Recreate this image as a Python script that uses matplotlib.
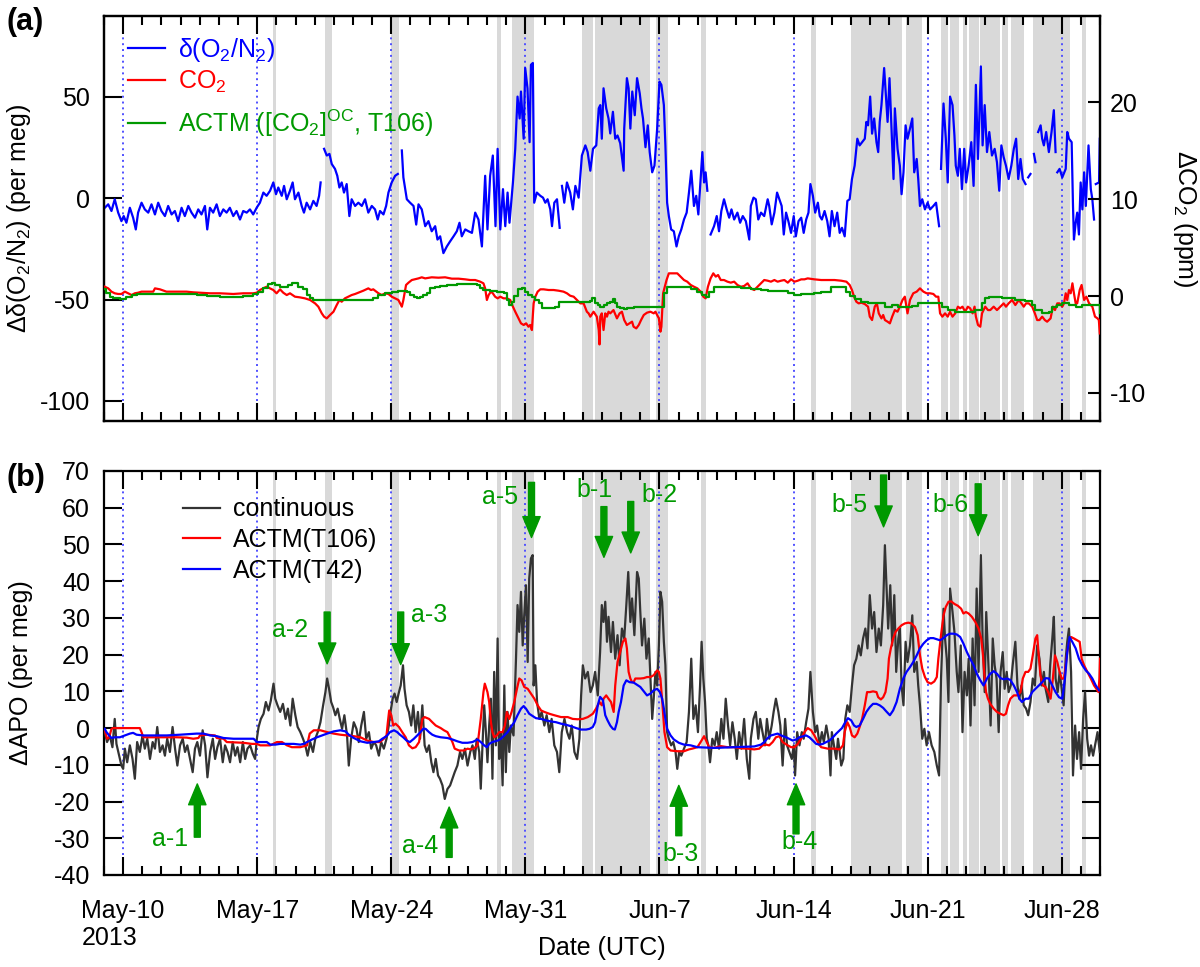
import numpy as np
import matplotlib
matplotlib.use("Agg")
import matplotlib.pyplot as plt
from matplotlib.lines import Line2D
from matplotlib.ticker import FixedLocator, MultipleLocator

plt.rcParams['font.family'] = ['Liberation Sans', 'DejaVu Sans']
plt.rcParams['font.size'] = 18
plt.rcParams['mathtext.fontset'] = 'custom'
plt.rcParams['mathtext.rm'] = 'Liberation Sans'
plt.rcParams['mathtext.it'] = 'Liberation Sans:italic'
plt.rcParams['axes.linewidth'] = 1.6
plt.rcParams['axes.unicode_minus'] = False

GREEN = '#009900'
GRAY = '#d9d9d9'

# x = days since 2013-05-10 00:00 UTC
week_days = [0, 7, 14, 21, 28, 35, 42, 49]
week_labels = ['May-10\n2013', 'May-17', 'May-24', 'May-31', 'Jun-7', 'Jun-14', 'Jun-21', 'Jun-28']

# shaded periods (start, end) in days
shaded = [(7.8, 8.0), (10.56, 10.88), (14.0, 14.42), (19.52, 19.73), (20.32, 21.44),
          (23.98, 24.54), (24.66, 27.52), (27.8, 28.44), (30.15, 30.41), (35.93, 36.15),
          (38.0, 40.66), (40.89, 41.69), (42.72, 43.05), (43.16, 43.62), (43.83, 44.06),
          (44.15, 44.66), (44.74, 45.78), (45.88, 46.22), (46.35, 47.03), (47.48, 49.45),
          (50.08, 50.26)]

# (a) delta(O2/N2), per meg; None = gap
o2_obs = [(-0.96,-4.7),(-0.78,-3.0),(-0.61,-6.3),(-0.44,-0.5),(-0.26,-7.1),(-0.09,-11.3),(0.03,-8.8),(0.17,-12.1),
    (0.35,-4.7),(0.52,-9.6),(0.66,-15.4),(0.78,-7.1),(0.96,-2.2),(1.13,-5.5),(1.31,-7.1),(1.48,-3.0),(1.66,-8.0),
    (1.83,-2.2),(2.00,-6.3),(2.18,-8.8),(2.35,-3.8),(2.53,-8.0),(2.70,-6.3),(2.87,-11.3),(3.05,-4.7),(3.22,-8.8),
    (3.40,-3.8),(3.57,-7.1),(3.75,-9.6),(3.92,-5.5),(4.09,-8.0),(4.27,-3.8),(4.39,-15.4),(4.53,-4.7),(4.70,-7.1),
    (4.88,-3.0),(5.05,-8.8),(5.23,-5.5),(5.40,-7.1),(5.57,-4.7),(5.75,-8.8),(5.92,-6.3),(6.10,-10.5),(6.27,-6.3),
    (6.45,-7.1),(6.62,-5.5),(6.79,-8.0),(6.97,-4.7),(7.14,-2.2),(7.32,2.8),(7.49,1.2),(7.67,3.7),(7.84,7.8),
    (7.98,2.0),(8.10,5.3),(8.28,1.2),(8.40,6.1),(8.54,-0.5),(8.71,3.7),(8.85,7.8),(8.97,-0.5),(9.15,2.8),
    (9.32,-3.8),(9.44,-7.1),(9.58,-2.2),(9.76,-5.5),(9.93,-1.3),(10.10,-3.8),(10.23,1.2),(10.31,7.8),(10.40,None),
    (10.49,24.4),(10.63,21.1),(10.77,21.9),(10.89,16.9),(11.06,14.5),(11.18,11.1),(11.29,5.3),(11.41,7.8),
    (11.53,2.8),(11.67,7.0),(11.81,-8.8),(11.93,-0.5),(12.11,-3.8),(12.28,-2.2),(12.46,-3.8),(12.63,-0.5),
    (12.80,-7.1),(12.98,-3.8),(13.15,-5.5),(13.29,-10.5),(13.41,-6.3),(13.59,-8.0),(13.73,-3.8),(13.85,2.8),
    (14.02,7.8),(14.20,11.1),(14.34,12.0),(14.45,None),
    (14.55,23.6),(14.63,10.3),(14.81,-0.5),(14.98,-2.2),(15.16,-3.8),(15.30,-13.0),(15.42,-3.0),(15.59,-5.5),
    (15.77,-13.8),(15.94,-11.3),(16.11,-16.3),(16.29,-13.8),(16.41,-20.4),(16.55,-18.8),(16.72,-27.1),(16.90,-23.8),
    (17.07,-21.3),(17.25,-18.8),(17.42,-16.3),(17.56,-12.1),(17.68,-18.8),(17.86,-15.4),(18.03,-16.3),(18.21,-17.1),
    (18.38,-7.1),(18.55,-10.5),(18.73,-23.8),(18.90,11.1),(19.02,-15.4),(19.16,11.1),(19.30,21.1),(19.44,-13.8),
    (19.55,24.4),(19.69,-15.4),(19.83,4.5),(19.95,-13.8),(20.07,2.8),(20.17,-12.1),(20.35,7.8),(20.47,24.4),
    (20.59,50.2),(20.70,39.4),(20.77,52.7),(20.91,29.4),(20.99,64.3),(21.11,54.3),(21.22,27.7),(21.29,65.9),
    (21.39,66.8),(21.46,-2.2),(21.60,2.8),(21.78,1.2),(21.92,0.3),(22.04,-2.2),(22.16,-0.5),(22.30,-5.5),
    (22.39,-13.8),(22.51,-2.2),(22.65,-0.5),(22.79,-14.6),(22.85,None),
    (22.91,6.1),(23.03,-2.2),(23.17,7.8),(23.34,2.8),(23.48,-5.5),(23.61,6.1),(23.78,0.3),(23.95,21.1),
    (24.13,26.1),(24.25,22.8),(24.39,13.6),(24.53,24.4),(24.70,26.1),(24.83,44.4),(24.91,46.0),(24.99,29.4),
    (25.08,54.3),(25.22,44.4),(25.34,39.4),(25.43,32.0),(25.57,42.7),(25.69,29.4),(25.81,31.0),(25.95,27.2),
    (26.13,13.6),(26.16,34.4),(26.30,59.3),(26.39,54.3),(26.48,34.4),(26.58,52.7),(26.71,41.0),(26.83,59.3),
    (26.97,51.8),(27.06,44.4),(27.14,39.4),(27.27,25.2),(27.39,36.0),(27.49,22.8),(27.62,12.8),(27.74,16.1),
    (27.88,34.4),(28.00,57.6),(28.10,56.0),(28.23,46.0),(28.31,26.1),(28.40,-2.2),(28.49,-8.8),(28.61,-15.4),
    (28.75,-16.3),(28.89,-23.8),(29.01,-18.8),(29.14,-15.4),(29.28,-10.5),(29.42,-7.1),(29.54,2.8),(29.66,13.6),
    (29.80,-3.8),(29.92,1.2),(30.03,-8.0),(30.15,9.5),(30.24,22.8),(30.33,7.8),(30.41,12.8),(30.50,3.7),(30.58,None),
    (30.67,-17.9),(30.85,-13.8),(30.99,-8.8),(31.11,-16.3),(31.23,-6.3),(31.37,-0.5),(31.51,-5.5),(31.64,-9.6),
    (31.76,-5.5),(31.90,-10.5),(32.07,-7.1),(32.21,-12.1),(32.35,-8.8),(32.51,-11.3),(32.69,-20.4),(32.77,-3.8),
    (32.91,0.3),(33.03,-0.5),(33.16,-10.5),(33.30,-7.1),(33.47,-8.8),(33.65,-0.5),(33.73,-3.8),(33.86,-12.9),
    (34.00,-7.1),(34.14,2.8),(34.26,-0.5),(34.38,-3.8),(34.49,-17.9),(34.61,-7.1),(34.73,-11.3),(34.87,-17.1),
    (35.01,-8.8),(35.12,-18.8),(35.26,-11.3),(35.40,-9.6),(35.53,-17.1),(35.66,-10.5),(35.78,-7.1),(35.88,7.0),
    (36.01,1.2),(36.13,-7.1),(36.27,-2.2),(36.37,-8.8),(36.48,-10.5),(36.62,-6.3),(36.76,-11.3),(36.88,-18.8),
    (37.00,-6.3),(37.14,-13.8),(37.28,-7.1),(37.41,-17.1),(37.53,-14.6),(37.67,-18.8),(37.81,-1.3),(37.93,-0.5),
    (38.05,9.5),(38.19,16.1),(38.33,29.4),(38.45,26.1),(38.58,27.7),(38.72,29.4),(38.80,37.7),(38.89,36.0),
    (39.00,50.2),(39.10,31.9),(39.21,39.4),(39.33,27.7),(39.42,22.8),(39.50,37.7),(39.59,46.0),(39.73,64.3),
    (39.82,51.0),(39.91,37.7),(40.01,59.3),(40.12,32.7),(40.22,9.5),(40.29,44.4),(40.43,24.4),(40.55,16.1),
    (40.64,2.0),(40.74,12.8),(40.85,36.0),(40.95,29.4),(41.08,34.4),(41.20,39.4),(41.30,12.8),(41.43,19.4),
    (41.51,9.5),(41.60,-3.8),(41.72,-0.5),(41.86,-5.5),(42.00,-2.2),(42.13,-5.5),(42.30,-3.8),(42.44,-2.2),
    (42.60,-13.8),(42.65,None),
    (42.70,14.5),(42.83,46.8),(42.95,29.4),(43.05,7.8),(43.17,50.2),(43.30,46.0),(43.40,31.0),(43.47,16.1),
    (43.58,11.1),(43.68,24.4),(43.79,4.5),(43.91,24.4),(44.01,7.8),(44.14,16.1),(44.28,27.7),(44.40,6.1),
    (44.52,56.0),(44.63,19.4),(44.70,39.4),(44.78,65.1),(44.87,26.1),(44.98,46.0),(45.10,22.8),(45.22,32.7),
    (45.36,21.1),(45.50,24.4),(45.62,17.8),(45.74,3.7),(45.85,26.1),(45.97,20.3),(46.09,16.1),(46.23,9.5),
    (46.37,16.1),(46.50,24.4),(46.62,29.4),(46.73,9.5),(46.85,19.4),(46.97,9.5),(47.11,7.0),(47.18,None),
    (47.25,10.3),(47.37,12.0),(47.46,None),(47.55,21.9),(47.63,17.8),(47.70,None),
    (47.77,32.7),(47.90,36.0),(47.98,29.4),(48.07,26.1),(48.19,32.7),(48.33,22.8),(48.47,32.7),(48.59,43.5),
    (48.68,22.8),(48.72,None),
    (48.77,12.8),(48.89,14.5),(49.03,10.3),(49.21,14.5),(49.29,32.7),(49.38,29.4),(49.52,27.7),(49.59,-3.8),
    (49.64,-20.4),(49.73,-12.1),(49.81,-7.1),(49.90,-17.9),(49.99,7.8),(50.08,-5.5),(50.17,12.8),(50.26,-3.8),
    (50.40,26.1),(50.52,4.5),(50.60,-0.5),(50.69,-10.5),(50.74,None),(50.78,7.0),(50.95,7.8),(50.99,29.4)]

# (a) CO2, ppm (right axis)
co2_obs = [(-0.96,0.96),(-0.78,0.79),(-0.61,0.45),(-0.44,0.28),(-0.26,0.21),(-0.09,0.21),(0.09,0.45),(0.26,0.28),
    (0.44,0.10),(0.61,0.28),(0.78,0.34),(0.96,0.45),(1.57,0.45),(1.66,0.79),(1.92,0.69),(2.26,0.45),(2.61,0.45),
    (2.96,0.45),(3.31,0.45),(3.66,0.38),(4.01,0.34),(4.53,0.28),(5.05,0.28),(5.75,0.21),(6.27,0.28),(6.79,0.28),
    (6.97,0.34),(7.14,0.62),(7.32,0.79),(7.49,0.96),(7.67,0.79),(7.84,0.62),(8.01,0.28),(8.19,0.69),(8.36,0.34),
    (8.54,0.10),(8.71,0.28),(8.97,-0.07),(9.23,-0.14),(9.49,-0.24),(9.76,-0.41),(10.02,-0.76),(10.19,-1.10),
    (10.37,-1.79),(10.49,-2.13),(10.63,-2.31),(10.80,-1.96),(10.98,-1.62),(11.15,-0.93),(11.29,-0.41),(11.41,-0.59),
    (11.58,-0.24),(11.76,-0.07),(11.93,0.10),(12.11,0.21),(12.28,0.34),(12.54,0.55),(12.80,0.79),(12.94,0.62),
    (13.06,0.69),(13.15,0.55),(13.33,0.28),(13.50,0.10),(13.68,0.28),(13.85,0.21),(14.02,-0.07),(14.20,-0.24),
    (14.37,-0.41),(14.46,-0.76),(14.55,-1.10),(14.63,-0.41),(14.77,1.14),(14.90,1.38),(15.07,1.65),(15.42,1.82),
    (15.59,1.93),(15.77,1.82),(16.11,1.93),(16.46,1.89),(16.81,1.93),(17.16,1.79),(17.51,1.79),(17.86,1.72),
    (18.12,1.65),(18.38,1.65),(18.64,1.48),(18.81,1.31),(18.90,0.79),(18.99,-0.41),(19.08,0.10),(19.20,0.45),
    (19.30,0.28),(19.42,-0.07),(19.55,-0.24),(19.69,-0.07),(19.86,-0.24),(20.04,-0.24),(20.21,-0.41),(20.35,-1.10),
    (20.47,-1.62),(20.64,-2.31),(20.77,-2.82),(20.91,-2.99),(21.04,-2.82),(21.16,-3.17),(21.25,-2.99),(21.34,-3.51),
    (21.43,-0.76),(21.52,-0.07),(21.64,0.45),(21.78,0.69),(21.95,0.69),(22.21,0.62),(22.47,0.62),(22.73,0.55),
    (22.99,0.45),(23.17,0.28),(23.34,0.03),(23.52,-0.07),(23.69,-0.41),(23.87,-0.76),(24.04,-0.76),(24.21,-1.62),
    (24.30,-1.79),(24.39,-2.13),(24.56,-1.62),(24.73,-2.13),(24.83,-3.51),(24.87,-5.0),(24.91,-2.13),(24.99,-1.79),
    (25.08,-3.51),(25.17,-1.79),(25.26,-2.13),(25.34,-1.62),(25.43,-1.79),(25.60,-1.45),(25.78,-2.31),(25.92,-1.79),
    (26.04,-1.62),(26.16,-2.48),(26.30,-2.99),(26.44,-2.82),(26.57,-2.65),(26.65,-3.17),(26.79,-3.34),(26.92,-2.99),
    (27.04,-2.48),(27.18,-1.96),(27.35,-1.72),(27.53,-1.62),(27.70,-1.79),(27.79,-1.62),(27.88,-1.96),(27.97,-2.31),
    (28.05,-3.68),(28.10,-3.17),(28.19,0.28),(28.28,0.96),(28.37,1.65),(28.49,2.34),(28.66,2.34),(28.93,2.34),
    (29.10,2.00),(29.28,1.65),(29.45,1.48),(29.63,1.14),(29.80,0.96),(29.98,0.79),(30.15,0.45),(30.29,-0.07),
    (30.41,-0.24),(30.53,0.96),(30.67,1.82),(30.81,2.34),(30.94,2.00),(31.06,2.17),(31.20,1.65),(31.37,1.65),
    (31.55,1.48),(31.72,1.38),(31.90,1.48),(32.07,1.14),(32.25,0.96),(32.42,1.03),(32.60,1.31),(32.77,0.79),
    (32.95,0.62),(33.12,0.96),(33.30,1.31),(33.47,1.65),(33.65,1.58),(33.82,1.48),(34.00,1.65),(34.17,1.48),
    (34.35,1.58),(34.52,1.65),(34.70,1.38),(34.87,1.72),(35.05,1.48),(35.22,1.58),(35.40,1.72),(35.57,1.72),
    (35.74,1.82),(36.09,1.72),(36.44,1.65),(36.79,1.65),(37.14,1.65),(37.49,1.58),(37.76,1.48),(37.93,1.14),
    (38.05,0.62),(38.16,-0.07),(38.28,-0.59),(38.40,-0.76),(38.54,-0.69),(38.72,-0.83),(38.89,-1.10),(38.98,-2.13),
    (39.10,-2.48),(39.24,-1.10),(39.35,-0.76),(39.45,-1.79),(39.59,-2.31),(39.68,-1.96),(39.77,-2.48),(39.91,-2.65),
    (40.03,-2.82),(40.15,-2.13),(40.29,-1.45),(40.43,-1.62),(40.55,-1.10),(40.69,-0.41),(40.81,-0.07),(40.95,-1.79),
    (41.08,-0.41),(41.25,0.28),(41.43,0.45),(41.60,0.79),(41.78,0.45),(41.95,0.28),(42.13,0.28),(42.30,0.21),
    (42.44,-0.07),(42.56,-0.07),(42.65,-1.79),(42.77,-2.13),(42.91,-1.79),(43.05,-2.13),(43.17,-1.62),(43.30,-2.13),
    (43.44,-1.79),(43.58,-1.10),(43.70,-1.27),(43.82,-1.10),(43.96,-1.62),(44.10,-1.10),(44.22,-1.27),(44.35,-1.79),
    (44.45,-1.10),(44.52,-2.13),(44.63,-2.99),(44.75,-3.17),(44.84,-1.79),(44.92,-1.45),(45.01,-1.10),(45.15,-1.45),
    (45.27,-1.45),(45.45,-1.10),(45.62,-1.45),(45.80,-1.10),(45.97,-0.76),(46.09,-1.10),(46.23,-0.76),(46.41,-0.41),
    (46.58,-0.93),(46.76,-0.41),(46.90,-0.76),(47.02,-1.10),(47.14,-0.76),(47.28,-0.76),(47.46,-1.10),(47.60,-1.79),
    (47.72,-2.48),(47.84,-2.48),(47.98,-2.13),(48.12,-2.48),(48.24,-2.65),(48.42,-2.31),(48.54,-1.10),(48.65,-1.45),
    (48.77,-0.76),(48.89,-0.76),(49.03,-1.10),(49.12,-0.76),(49.21,0.28),(49.29,-0.41),(49.38,0.62),(49.47,0.28),
    (49.56,1.31),(49.64,0.28),(49.73,-0.76),(49.81,-0.76),(49.94,0.62),(50.04,1.14),(50.17,-0.41),(50.29,-0.07),
    (50.43,-0.76),(50.60,-1.10),(50.74,-2.13),(50.87,-2.31),(50.94,-2.48),(50.99,-3.86)]

# (a) ACTM [CO2]OC T106, ppm (right axis)
actm_co2 = [(-0.96,0.69),(-0.87,0.28),(-0.70,-0.07),(-0.52,-0.24),(-0.17,-0.34),(0.17,-0.07),(0.44,0.10),(0.70,0.21),
    (1.39,0.21),(2.26,0.21),(3.14,0.21),(3.83,0.10),(4.36,0.0),(5.05,-0.14),(5.75,-0.14),(6.27,0.0),(6.79,0.21),
    (7.05,0.45),(7.32,0.79),(7.58,1.20),(7.75,1.38),(7.93,1.14),(8.19,0.96),(8.45,0.96),(8.62,1.14),(8.80,1.38),
    (8.97,1.31),(9.15,0.96),(9.41,0.69),(9.58,0.10),(9.76,-0.24),(9.93,-0.41),(12.28,-0.41),(12.80,-0.41),
    (13.06,-0.24),(13.32,0.10),(13.67,0.28),(14.02,0.45),(14.37,0.55),(14.59,0.55),(14.81,0.38),(14.98,0.10),
    (15.16,-0.07),(15.33,-0.24),(15.51,-0.07),(15.68,0.10),(15.86,0.28),(16.03,0.79),(16.29,0.96),(16.55,1.03),
    (16.90,1.14),(17.42,1.20),(17.94,1.20),(18.47,1.14),(18.64,0.79),(18.81,0.62),(19.16,0.55),(19.51,0.45),
    (19.86,0.28),(20.03,-0.41),(20.17,-0.93),(20.30,-0.59),(20.42,0.0),(20.64,0.69),(20.82,0.79),(20.99,0.45),
    (21.16,0.10),(21.34,-0.14),(21.52,-0.41),(21.69,-0.76),(21.86,-1.27),(22.30,-1.27),(22.56,-1.10),(22.73,-0.59),
    (22.91,-0.59),(23.26,-0.59),(23.87,-0.59),(24.21,-0.59),(24.36,-0.52),(24.50,-0.24),(24.62,-0.76),(24.79,-0.93),
    (24.91,-1.10),(25.08,-0.93),(25.26,-0.76),(25.43,-0.59),(25.60,-0.34),(25.69,-0.76),(25.78,-1.10),(25.95,-1.27),
    (26.13,-1.38),(26.30,-1.27),(26.65,-1.10),(27.53,-1.10),(27.88,-1.17),(28.05,-1.10),(28.23,0.28),(28.40,0.96),
    (29.28,0.89),(29.63,0.69),(29.98,0.45),(30.24,0.10),(30.41,-0.07),(30.59,0.45),(30.85,0.96),(31.90,0.89),
    (32.25,0.79),(32.77,0.69),(33.30,0.62),(33.65,0.55),(34.35,0.55),(34.70,0.28),(35.05,0.10),(35.40,0.21),
    (35.74,0.21),(36.09,0.28),(36.44,0.45),(36.97,0.89),(37.49,0.89),(37.76,0.45),(37.93,0.0),(38.19,-0.34),
    (38.54,-0.59),(38.89,-0.76),(39.77,-1.10),(40.12,-0.93),(40.46,-1.10),(41.16,-1.03),(41.51,-0.76),(42.39,-0.69),
    (42.74,-1.10),(43.09,-1.45),(43.44,-1.62),(43.96,-1.62),(44.49,-1.45),(44.84,-0.76),(45.01,-0.24),(45.19,-0.14),
    (45.88,-0.24),(46.58,-0.41),(47.11,-0.48),(47.46,-0.93),(47.63,-1.45),(47.98,-1.79),(48.33,-1.62),(48.51,-1.10),
    (48.77,-0.93),(49.03,-0.76),(49.38,-0.93),(49.73,-1.10),(50.08,-0.93),(50.87,-0.93),(51.0,-1.79)]

# (b) APO, per meg
apo_obs = [(-0.96,-1.1),(-0.84,-3.8),(-0.70,-2.0),(-0.56,-5.2),(-0.44,2.5),(-0.35,-4.3),(-0.21,-7.5),(-0.09,-10.2),
    (0.00,-11.1),(0.09,-5.6),(0.21,-9.3),(0.35,-4.7),(0.49,-8.4),(0.61,-13.8),(0.73,-3.8),(0.87,-6.5),(1.01,-2.0),
    (1.13,-5.6),(1.26,-2.9),(1.40,-8.4),(1.54,-3.8),(1.66,-5.6),(1.78,0.3),(1.92,-6.5),(2.06,-4.7),(2.18,-7.5),
    (2.30,-2.9),(2.44,-6.5),(2.58,0.3),(2.71,-5.6),(2.83,-10.2),(2.97,-4.7),(3.11,-2.9),(3.23,-6.5),(3.35,-4.7),
    (3.49,-8.4),(3.63,-12.0),(3.75,-5.6),(3.87,-3.8),(4.01,-7.5),(4.15,-0.6),(4.28,-4.7),(4.40,-13.4),(4.54,-6.5),
    (4.68,-2.9),(4.80,-8.4),(4.92,-5.2),(5.06,-2.9),(5.20,-9.3),(5.32,-4.7),(5.45,-6.5),(5.58,-9.3),(5.72,-3.8),
    (5.85,-7.5),(5.97,-5.2),(6.11,-9.3),(6.25,-3.8),(6.37,-8.4),(6.49,-5.6),(6.63,-4.7),(6.77,-7.0),(6.89,-8.4),
    (6.98,-2.9),(7.07,0.3),(7.19,2.5),(7.33,3.9),(7.45,7.1),(7.59,4.8),(7.71,7.5),(7.85,12.1),(7.94,8.0),(8.06,6.2),
    (8.20,4.4),(8.34,6.6),(8.48,2.5),(8.60,5.3),(8.73,0.7),(8.85,8.0),(8.99,3.5),(9.11,0.3),(9.25,-1.1),(9.39,-2.9),
    (9.51,-4.7),(9.63,-7.5),(9.77,-3.8),(9.91,-6.5),(10.03,-2.9),(10.16,-1.1),(10.30,1.6),(10.44,6.2),(10.56,9.8),
    (10.65,13.5),(10.75,10.7),(10.86,7.1),(10.96,5.7),(11.08,3.5),(11.20,5.3),(11.31,2.5),(11.43,-0.2),(11.55,3.5),
    (11.69,-2.0),(11.78,-10.2),(11.90,-2.9),(12.04,1.6),(12.18,-0.2),(12.30,-3.8),(12.43,0.7),(12.57,4.4),(12.69,-2.9),
    (12.83,-1.1),(12.95,-5.6),(13.09,-3.8),(13.21,-4.7),(13.35,-7.5),(13.47,-3.8),(13.61,-5.6),(13.75,-2.9),(13.87,0.7),
    (13.96,4.4),(14.07,8.0),(14.17,9.4),(14.28,7.1),(14.40,9.8),(14.49,11.6),(14.61,17.1),(14.69,10.7),(14.80,6.2),
    (14.92,4.4),(15.04,0.7),(15.15,6.2),(15.27,-1.1),(15.39,4.4),(15.50,-2.9),(15.62,6.2),(15.74,-4.7),(15.85,-6.5),
    (15.97,-4.7),(16.09,-9.3),(16.20,-12.0),(16.32,-8.4),(16.44,-12.9),(16.54,-13.8),(16.67,-15.6),(16.79,-19.3),
    (16.93,-16.6),(17.07,-15.6),(17.19,-13.8),(17.31,-12.0),(17.45,-10.2),(17.59,-6.5),(17.71,-8.4),(17.84,-5.6),
    (17.98,-10.2),(18.12,-6.5),(18.24,-4.7),(18.36,-8.4),(18.46,-2.9),(18.59,-6.5),(18.67,-16.5),(18.76,-4.7),
    (18.85,6.2),(18.94,-1.1),(19.02,-9.3),(19.11,0.7),(19.20,8.0),(19.28,-13.8),(19.37,15.3),(19.46,-4.7),(19.55,24.4),
    (19.63,-8.4),(19.72,-1.1),(19.81,-15.6),(19.90,11.6),(19.98,-12.0),(20.07,4.4),(20.16,-6.5),(20.24,0.7),
    (20.38,-2.0),(20.51,18.9),(20.59,33.5),(20.68,26.2),(20.77,37.1),(20.86,22.5),(20.94,30.7),(21.03,38.9),
    (21.12,18.0),(21.20,40.7),(21.29,46.2),(21.38,47.1),(21.43,11.6),(21.52,17.1),(21.61,7.1),(21.73,2.5),(21.85,4.4),
    (21.99,0.7),(22.11,3.5),(22.25,-1.1),(22.37,2.5),(22.51,-4.7),(22.65,-6.5),(22.77,-12.0),(22.90,-1.1),(23.04,2.5),
    (23.18,-1.1),(23.30,-2.9),(23.42,0.7),(23.56,-6.5),(23.70,-8.4),(23.82,-2.9),(23.91,8.9),(24.00,17.1),(24.12,13.5),
    (24.26,15.3),(24.40,9.8),(24.52,11.6),(24.64,15.3),(24.78,8.9),(24.90,20.7),
    (24.99,33.5),(25.08,28.9),(25.17,34.4),(25.26,23.5),(25.34,30.3),(25.47,20.7),(25.57,28.9),(25.69,18.9),
    (25.81,25.3),(25.92,17.1),(26.04,27.1),(26.16,24.4),(26.27,33.5),(26.37,42.5),(26.48,28.9),(26.57,35.3),
    (26.69,25.3),(26.83,42.5),(26.92,40.7),(27.00,31.6),(27.09,22.5),(27.21,29.8),(27.32,18.9),(27.44,24.4),
    (27.53,13.5),(27.62,2.5),(27.70,8.0),(27.79,15.3),(27.88,11.6),(27.97,22.5),(28.05,37.1),(28.14,34.4),
    (28.23,23.5),(28.31,17.1),(28.40,-1.1),(28.49,-2.9),(28.61,-4.7),(28.72,-3.8),(28.84,-6.5),(28.93,-11.1),
    (29.03,-6.5),(29.14,-7.5),(29.28,-5.6),(29.42,-3.8),(29.54,4.4),(29.66,18.9),(29.77,2.5),(29.89,6.2),(30.01,-1.1),
    (30.12,11.6),(30.20,23.5),(30.29,13.5),(30.38,7.1),(30.47,-2.9),(30.55,-4.7),(30.64,-9.3),(30.76,-2.9),
    (30.88,-4.7),(30.99,-1.1),(31.11,-5.6),(31.23,2.5),(31.34,-2.9),(31.46,8.0),(31.58,0.7),(31.69,-4.7),(31.81,1.6),
    (31.93,-2.9),(32.04,-8.4),(32.16,-1.1),(32.28,-5.6),(32.42,2.5),(32.56,-8.4),(32.69,-13.8),(32.77,-2.9),
    (32.91,2.5),(33.03,4.4),(33.16,-2.9),(33.26,2.5),(33.38,-1.1),(33.51,-4.7),(33.61,2.5),(33.73,-2.9),(33.86,0.7),
    (33.96,4.4),(34.08,8.0),(34.21,4.4),(34.31,0.7),(34.43,-10.2),(34.56,2.5),(34.66,-4.7),(34.78,-6.5),(34.91,-8.4),
    (35.01,-4.7),(35.08,-12.9),(35.19,-1.1),(35.31,-4.7),(35.43,-1.1),(35.53,-2.9),(35.66,1.6),(35.78,5.3),
    (35.88,15.3),(36.01,4.4),(36.13,-1.1),(36.23,0.7),(36.36,-4.7),(36.48,-1.1),(36.58,-3.8),(36.71,0.7),(36.83,-2.9),
    (36.93,-12.9),(37.00,-1.1),(37.11,-4.7),(37.23,-8.4),(37.32,-2.9),(37.41,-6.5),(37.49,-10.2),(37.60,-8.4),
    (37.70,2.5),(37.81,6.2),(37.93,4.4),(38.05,11.6),(38.16,17.1),(38.28,18.9),(38.40,22.5),(38.51,19.8),(38.63,24.4),
    (38.75,27.1),(38.86,21.7),(38.98,36.2),(39.10,27.1),(39.21,31.6),(39.33,20.7),(39.45,27.1),(39.56,22.5),
    (39.68,33.5),(39.77,49.8),(39.85,38.9),(39.94,27.1),(40.05,38.9),(40.15,22.5),(40.26,36.2),(40.36,15.3),
    (40.47,24.4),(40.55,27.1),(40.64,11.6),(40.74,6.2),(40.85,23.5),(40.95,18.0),(41.08,22.5),(41.20,30.7),
    (41.30,15.3),(41.43,18.0),(41.51,11.6),(41.60,6.2),(41.72,-2.9),(41.83,-0.2),(41.95,-4.7),(42.07,-1.1),
    (42.21,-4.7),(42.35,-6.5),(42.48,-10.2),(42.60,-12.9),(42.70,13.5),(42.83,32.5),(42.91,24.4),(43.00,18.9),
    (43.09,7.1),(43.17,38.0),(43.30,31.6),(43.40,26.2),(43.52,15.3),(43.61,9.8),(43.73,22.5),(43.82,-1.1),(43.93,15.3),
    (44.05,8.9),(44.14,18.9),(44.24,0.7),(44.35,24.4),(44.45,6.2),(44.56,38.0),(44.66,15.3),(44.78,47.1),(44.87,24.4),
    (44.98,9.8),(45.06,31.6),(45.19,15.3),(45.29,0.7),(45.40,24.4),(45.50,17.1),(45.60,13.5),(45.71,-1.1),(45.81,15.3),
    (45.92,20.7),(46.02,10.7),(46.13,15.3),(46.23,9.8),(46.34,11.6),(46.44,17.1),(46.58,23.5),(46.69,11.6),(46.79,8.0),
    (46.90,11.6),(47.02,6.2),(47.14,5.3),(47.25,3.5),(47.37,7.1),(47.49,13.5),(47.60,11.6),(47.72,22.5),(47.84,18.9),
    (47.95,11.6),(48.07,15.3),(48.16,10.7),(48.30,7.1),(48.40,17.1),(48.51,24.4),(48.59,30.3),(48.68,13.5),(48.79,9.8),
    (48.89,15.3),(49.00,10.7),(49.10,6.2),(49.21,18.9),(49.29,23.5),(49.38,27.1),(49.49,15.3),(49.59,-12.9),
    (49.70,0.7),(49.80,-8.4),(49.91,-1.1),(50.01,-11.1),(50.12,2.5),(50.22,9.8),(50.33,-2.9),(50.43,-7.5),
    (50.53,-4.7),(50.64,-7.5),(50.74,-4.7),(50.87,-1.1),(50.95,-4.7),(50.99,-6.5)]

# (b) ACTM T106 APO, per meg
apo_t106 = [(-0.96,-0.6),(-0.84,-2.9),(-0.73,-2.5),(-0.61,-0.2),(-0.52,0.0),(0.87,0.0),(0.96,-1.1),(1.05,-2.5),
    (2.79,-2.5),(3.32,-2.6),(3.66,-2.9),(3.93,-2.7),(4.01,-2.0),(4.36,-1.8),(4.80,-2.0),(4.89,-2.7),(5.24,-2.9),
    (5.41,-3.8),(6.28,-4.0),(6.72,-4.3),(6.98,-4.3),(7.16,-4.7),(7.68,-4.7),(8.03,-3.8),(8.29,-3.8),(8.55,-4.7),
    (8.81,-5.2),(9.25,-5.2),(9.60,-4.7),(9.74,-1.5),(9.95,-0.6),(10.30,-0.6),(10.65,-1.1),(10.99,-1.5),(11.34,-1.8),
    (11.69,-2.0),(12.04,-2.2),(12.39,-2.5),(12.74,-3.4),(13.09,-3.8),(13.40,-3.8),(13.61,-2.9),(13.75,-2.0),
    (13.82,1.6),(13.89,4.8),(14.00,3.5),(14.10,0.7),(14.22,1.2),(14.40,0.3),(14.57,-1.1),(14.75,-2.5),(14.92,-4.7),
    (15.10,-5.5),(15.27,-5.2),(15.45,-3.8),(15.62,2.5),(15.74,3.0),(15.97,2.5),(16.14,1.6),(16.32,0.7),(16.58,0.0),
    (16.75,-0.6),(16.93,-1.1),(17.07,-2.5),(17.19,-3.8),(17.31,-5.6),(17.54,-6.1),(17.80,-6.1),(17.98,-5.6),
    (18.15,-5.8),(18.32,-5.5),(18.50,-4.7),(18.67,2.5),(18.81,9.8),(18.88,12.1),(19.02,9.8),(19.11,7.1),(19.20,1.6),
    (19.28,-1.1),(19.37,-2.5),(19.51,-2.0),(19.63,-1.1),(19.81,-1.1),(19.93,0.7),(20.03,4.4),(20.16,2.5),(20.28,4.4),
    (20.42,7.1),(20.56,10.7),(20.68,13.5),(20.80,13.0),(20.94,11.2),(21.12,10.7),(21.29,9.4),(21.47,8.0),(21.64,6.2),
    (21.82,4.8),(21.99,4.4),(22.25,3.9),(22.51,3.5),(22.86,3.0),(23.21,3.0),(23.47,2.5),(23.73,2.4),(24.00,2.5),
    (24.26,3.0),(24.52,3.9),(24.69,5.3),(24.87,7.1),(24.99,6.2),(25.08,8.0),(25.22,8.9),(25.34,8.0),(25.47,7.1),
    (25.61,4.4),(25.69,11.6),(25.81,18.0),(25.95,20.7),(26.09,23.5),(26.22,24.4),(26.30,21.7),(26.39,15.3),
    (26.48,13.5),(26.57,12.5),(26.65,12.5),(26.74,13.5),(27.00,13.5),(27.18,13.6),(27.35,13.9),(27.53,13.9),
    (27.70,14.4),(27.88,15.7),(27.97,15.3),(28.05,13.5),(28.16,6.2),(28.26,-1.1),(28.40,-5.2),(28.58,-6.1),
    (28.93,-6.3),(29.28,-6.3),(29.54,-5.8),(29.71,-5.6),(29.98,-5.2),(30.15,-3.8),(30.33,-2.2),(30.47,-3.8),
    (30.59,-5.2),(30.85,-5.4),(31.20,-4.9),(31.55,-5.2),(31.90,-5.2),(32.25,-5.5),(32.60,-5.6),(32.95,-5.8),
    (33.21,-5.6),(33.38,-4.7),(33.56,-4.5),(33.73,-4.7),(33.91,-3.8),(34.08,-2.5),(34.26,-2.2),(34.43,-3.8),
    (34.70,-4.7),(34.87,-5.2),(35.05,-5.2),(35.22,-4.3),(35.40,-2.9),(35.57,-1.1),(35.74,0.0),(35.92,-0.6),
    (36.09,-2.0),(36.27,-3.8),(36.44,-5.2),(36.79,-5.6),(37.14,-5.6),(37.41,-5.8),(37.58,-4.7),(37.67,-1.1),
    (37.81,1.6),(37.93,0.3),(38.05,-2.0),(38.19,-2.5),(38.33,-1.5),(38.45,0.3),(38.58,2.5),(38.72,6.2),(38.84,9.8),
    (38.98,9.8),(39.15,10.0),(39.33,9.8),(39.42,8.4),(39.56,7.8),(39.68,8.4),(39.80,9.8),(39.91,13.5),(39.98,18.9),
    (40.08,21.7),(40.20,24.4),(40.33,26.2),(40.47,27.1),(40.64,28.0),(40.81,28.5),(40.99,28.7),(41.16,28.5),
    (41.34,27.5),(41.48,25.3),(41.60,19.8),(41.72,16.2),(41.86,13.9),(42.00,12.5),(42.18,12.1),(42.35,12.7),
    (42.48,13.9),(42.56,18.9),(42.70,25.3),(42.83,30.7),(42.95,33.0),(43.09,34.4),(43.23,34.5),(43.40,33.8),
    (43.58,33.3),(43.75,32.5),(43.87,31.2),(44.00,31.6),(44.14,31.2),(44.31,30.3),(44.49,28.9),(44.66,27.1),
    (44.80,24.4),(44.89,19.8),(44.98,13.5),(45.05,9.8),(45.15,8.0),(45.27,6.6),(45.45,5.3),(45.62,4.4),(45.80,3.9),
    (45.97,3.5),(46.09,3.9),(46.20,6.2),(46.32,8.0),(46.50,8.9),(46.67,8.9),(46.85,9.8),(46.97,13.5),(47.11,15.3),
    (47.25,15.3),(47.37,16.2),(47.49,19.8),(47.63,24.4),(47.72,25.3),(47.80,19.8),(47.89,14.4),(48.02,11.6),
    (48.16,11.2),(48.30,9.8),(48.42,8.0),(48.54,13.5),(48.65,19.8),(48.77,18.0),(48.89,15.3),(49.00,13.5),
    (49.12,13.5),(49.21,17.1),(49.29,20.7),(49.38,23.5),(49.49,24.8),(49.64,24.4),(49.81,23.9),(49.94,23.5),
    (50.04,18.9),(50.17,17.1),(50.34,15.3),(50.52,13.5),(50.69,11.6),(50.81,10.7),(50.92,9.8),(50.97,13.5),(51.0,18.9)]

# (b) ACTM T42 APO, per meg
apo_t42 = [(-0.96,-0.2),(-0.87,-1.1),(-0.73,-2.0),(-0.61,-2.7),(-0.44,-2.5),(-0.17,-2.5),(0.09,-2.0),(0.35,-1.5),
    (0.52,-1.3),(0.70,-1.8),(1.05,-2.0),(2.27,-2.0),(2.97,-1.8),(3.84,-1.5),(4.19,-1.5),(4.54,-2.0),(4.89,-2.2),
    (5.24,-2.7),(5.76,-2.9),(6.81,-2.9),(6.98,-3.8),(7.50,-3.8),(7.68,-4.5),(7.94,-4.5),(8.20,-4.3),(8.90,-4.3),
    (9.25,-4.5),(9.42,-4.3),(9.60,-3.8),(9.86,-3.1),(10.12,-2.5),(10.38,-2.0),(10.65,-1.5),(10.99,-0.9),(11.34,-0.6),
    (11.61,-0.9),(11.78,-1.8),(12.04,-2.7),(12.39,-3.6),(12.74,-4.0),(13.09,-3.8),(13.35,-3.6),(13.53,-2.9),
    (13.75,-2.2),(13.93,-1.1),(14.14,-0.6),(14.31,-1.1),(14.45,-1.8),(14.62,-2.5),(14.80,-3.4),(14.97,-3.8),
    (15.18,-2.9),(15.45,-1.5),(15.67,-0.2),(15.79,-0.2),(15.97,-1.1),(16.14,-1.8),(16.32,-2.2),(16.58,-2.5),
    (16.93,-2.7),(17.19,-3.1),(17.45,-3.6),(17.71,-4.0),(17.98,-4.0),(18.24,-3.8),(18.50,-3.1),(18.67,-3.8),
    (18.85,-4.7),(18.99,-5.2),(19.11,-4.3),(19.28,-3.8),(19.55,-3.4),(19.72,-2.9),(19.90,-2.0),(20.07,-1.1),
    (20.24,0.3),(20.42,1.6),(20.59,3.5),(20.77,5.3),(20.91,6.0),(21.03,5.3),(21.20,3.9),(21.38,3.3),(21.55,2.7),
    (21.82,2.5),(22.08,2.1),(22.34,1.8),(22.60,1.6),(22.86,1.2),(23.12,0.9),(23.39,0.5),(23.65,0.0),(23.91,-0.4),
    (24.17,-0.4),(24.35,-0.2),(24.52,0.3),(24.64,1.6),(24.78,6.2),(24.90,8.5),(25.05,7.6),(25.17,3.5),(25.29,2.1),
    (25.43,0.7),(25.57,-0.2),(25.67,-0.4),(25.78,1.6),(25.87,4.4),(25.99,7.1),(26.13,11.6),(26.27,13.0),(26.44,12.5),
    (26.65,12.4),(26.83,11.8),(27.00,11.2),(27.18,10.0),(27.35,8.9),(27.53,9.4),(27.70,10.3),(27.88,10.7),
    (28.02,9.8),(28.14,8.0),(28.23,5.3),(28.31,2.5),(28.40,-0.2),(28.58,-2.0),(28.75,-3.1),(29.01,-4.0),(29.28,-4.5),
    (29.63,-4.7),(29.98,-5.2),(30.85,-5.4),(31.90,-5.2),(32.95,-5.0),(33.30,-4.5),(33.47,-3.8),(33.65,-2.7),
    (33.82,-2.0),(34.17,-1.5),(34.35,-2.0),(34.61,-2.5),(34.96,-3.4),(35.14,-3.1),(35.31,-2.5),(35.66,-2.0),
    (35.83,-2.5),(36.01,-3.4),(36.18,-4.3),(36.36,-4.5),(36.53,-4.3),(36.71,-3.8),(36.88,-3.4),(37.06,-2.5),
    (37.23,-1.5),(37.41,-0.6),(37.53,0.0),(37.70,1.6),(37.84,2.7),(38.01,2.1),(38.16,0.7),(38.28,0.3),(38.45,0.7),
    (38.63,2.5),(38.80,4.4),(38.98,5.7),(39.15,6.6),(39.33,6.6),(39.50,6.2),(39.68,5.5),(39.85,4.5),(40.03,3.5),
    (40.20,4.8),(40.38,7.1),(40.55,10.7),(40.73,13.5),(40.90,15.3),(41.08,16.6),(41.25,18.0),(41.43,19.8),
    (41.60,21.7),(41.78,23.0),(41.95,23.9),(42.13,24.5),(42.30,24.5),(42.48,24.2),(42.65,23.9),(42.83,24.5),
    (43.00,25.3),(43.17,25.7),(43.35,25.7),(43.52,25.5),(43.70,24.8),(43.87,23.0),(44.05,20.7),(44.22,18.9),
    (44.40,17.1),(44.57,14.8),(44.75,13.0),(44.92,11.6),(45.10,13.5),(45.27,14.8),(45.45,15.5),(45.62,14.8),
    (45.80,13.6),(45.97,13.3),(46.15,13.5),(46.32,13.1),(46.50,11.6),(46.67,9.8),(46.79,8.0),(46.93,7.1),(47.11,8.0),
    (47.28,8.0),(47.46,9.8),(47.63,10.7),(47.81,11.6),(47.98,12.5),(48.16,13.6),(48.33,13.5),(48.51,11.6),
    (48.68,9.8),(48.86,8.4),(49.03,8.0),(49.17,13.5),(49.29,20.7),(49.41,24.8),(49.55,23.5),(49.73,21.7),
    (49.90,18.9),(50.08,17.1),(50.26,15.7),(50.43,14.8),(50.60,13.5),(50.78,11.6),(50.95,10.3)]

# event arrows in (b): label, day, arrow tail, arrow tip, label day, label value
event_names = ['a-1', 'a-2', 'a-3', 'a-4', 'a-5', 'b-1', 'b-2', 'b-3', 'b-4', 'b-5', 'b-6']
event_day = [3.87, 10.65, 14.49, 17.02, 21.32, 25.1, 26.5, 29.01, 35.13, 39.7, 44.64]
event_tail = [-29.7, 31.6, 31.6, -35.2, 66.9, 60.3, 61.7, -29.3, -28.8, 68.9, 66.5]
event_tip = [-15.2, 17.5, 17.3, -21.5, 51.9, 46.5, 47.7, -15.6, -15.2, 54.8, 52.4]
event_text_day = [2.46, 8.73, 15.97, 15.53, 19.66, 24.6, 27.98, 29.10, 35.31, 37.94, 43.18]
event_text_val = [-30.2, 26.6, 30.7, -32.0, 62.9, 64.8, 63.6, -34.3, -31.1, 60.8, 60.8]


def unpack(points):
    d = np.array([p[0] for p in points], dtype=float)
    v = np.array([np.nan if p[1] is None else p[1] for p in points], dtype=float)
    return d, v


def style_time_axis(ax, right_ticks=True):
    ax.set_xlim(-1, 51)
    ax.xaxis.set_major_locator(FixedLocator(week_days))
    ax.xaxis.set_minor_locator(MultipleLocator(1))
    ax.tick_params(which='both', direction='in', top=True, right=right_ticks, width=1.5)
    ax.tick_params(which='major', length=13, pad=10)
    ax.tick_params(which='minor', length=6.5)
    ax.tick_params(axis='x', which='major', pad=17)
    for s0, s1 in shaded:
        ax.axvspan(s0, s1, color=GRAY, lw=0, zorder=0)
    for d in week_days:
        ax.axvline(d, ymin=0.05, ymax=0.95, color='#5050ff', ls=(0, (1, 2)), lw=1.4, zorder=1)


fig = plt.figure(figsize=(12, 9.67), dpi=100)
ax_a = fig.add_axes([104 / 1200, 1 - 421 / 967, 996 / 1200, 405 / 967])
ax_b = fig.add_axes([104 / 1200, 1 - 875 / 967, 996 / 1200, 404 / 967])

# ---- panel (a)
style_time_axis(ax_a, right_ticks=False)
ax_a.tick_params(labelbottom=False)
ax_a.set_ylim(-110, 90)
ax_a.set_yticks([-100, -50, 0, 50])
d, v = unpack(o2_obs)
ax_a.plot(d, v, color='#0000ff', lw=1.6, zorder=3)
ax_a.set_ylabel('Δδ(O$_2$/N$_2$) (per meg)')
ax_a.yaxis.set_label_coords(-0.071, 0.5)

ax2 = ax_a.twinx()
ax2.set_ylim(-12.9, 28.9)
ax2.set_yticks([-10, 0, 10, 20])
ax2.tick_params(direction='in', length=8.6, width=1.5, pad=7)
d, v = unpack(co2_obs)
ax2.plot(d, v, color='#ff0000', lw=1.6, zorder=3)
d, v = unpack(actm_co2)
ax2.plot(d, v, color='#009900', lw=1.6, zorder=4, drawstyle='steps-post')
ax2.set_ylabel('ΔCO$_2$ (ppm)', rotation=270, va='bottom')
ax2.yaxis.set_label_coords(1.071, 0.5)

# legend of (a): coloured sample lines and coloured labels, rows spaced as in the figure
legend_a = [('δ(O$_2$/N$_2$)', '#0000ff', 0.921),
            ('CO$_2$', '#ff0000', 0.842),
            ('ACTM ([CO$_2$]$^{\\mathrm{OC}}$, T106)', '#009900', 0.736)]
for text, col, yrow in legend_a:
    ax2.add_line(Line2D([0.024, 0.061], [yrow, yrow], transform=ax2.transAxes,
                        color=col, lw=1.6))
    ax2.text(0.0743, yrow - 0.022, text, color=col, transform=ax2.transAxes,
             ha='left', va='baseline')

# ---- panel (b)
style_time_axis(ax_b)
ax_b.set_ylim(-40, 70)
ax_b.yaxis.set_major_locator(MultipleLocator(10))
ax_b.set_xticks(week_days, week_labels)
for lab in ax_b.get_xticklabels():
    lab.set_multialignment('left')
d, v = unpack(apo_obs)
l_c, = ax_b.plot(d, v, color='#333333', lw=1.6, zorder=3, label='continuous')
d, v = unpack(apo_t106)
l_r, = ax_b.plot(d, v, color='#ff0000', lw=1.6, zorder=4, label='ACTM(T106)')
d, v = unpack(apo_t42)
l_b, = ax_b.plot(d, v, color='#0000ff', lw=1.6, zorder=5, label='ACTM(T42)')
ax_b.set_ylabel('ΔAPO (per meg)')
ax_b.yaxis.set_label_coords(-0.071, 0.5)
ax_b.legend(handles=[l_c, l_r, l_b], loc='upper left', bbox_to_anchor=(0.079, 0.935),
            frameon=False, borderpad=0, borderaxespad=0, handlelength=1.5,
            handletextpad=0.5, labelspacing=0.27)

for i, name in enumerate(event_names):
    ax_b.annotate('', xy=(event_day[i], event_tip[i]), xytext=(event_day[i], event_tail[i]),
                  arrowprops=dict(color=GREEN, width=4.3, headwidth=12.5, headlength=15, shrink=0),
                  zorder=6)
    ax_b.text(event_text_day[i], event_text_val[i], name, color=GREEN, ha='center', va='center',
              zorder=6)

fig.text(7 / 1200, 1 - 22 / 967, '(a)', fontsize=22, fontweight='bold', va='center')
fig.text(7 / 1200, 1 - 478 / 967, '(b)', fontsize=22, fontweight='bold', va='center')
fig.text(602 / 1200, 1 - 948 / 967, 'Date (UTC)', ha='center', va='center')

fig.savefig('out.png', dpi=100)
